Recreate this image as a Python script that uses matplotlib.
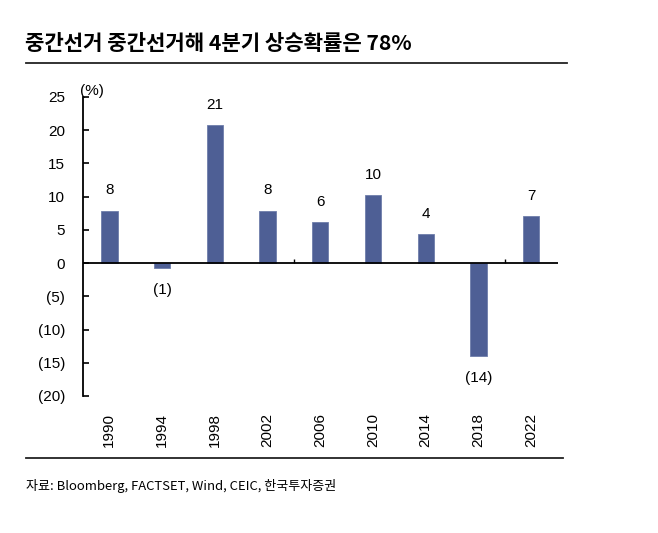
import matplotlib
matplotlib.use("Agg")
import matplotlib.pyplot as plt
from matplotlib.lines import Line2D
import numpy as np

plt.rcParams['font.family'] = ['Liberation Sans', 'Noto Sans CJK KR', 'DejaVu Sans']

title = "중간선거 중간선거해 4분기 상승확률은 78%"
source = "자료: Bloomberg, FACTSET, Wind, CEIC, 한국투자증권"
years = ["1990", "1994", "1998", "2002", "2006", "2010", "2014", "2018", "2022"]
values = [7.9, -0.8, 20.8, 7.9, 6.2, 10.2, 4.4, -14.0, 7.1]
yticks = [25, 20, 15, 10, 5, 0, -5, -10, -15, -20]
unit_label = "(%)"
bar_color = "#4E5F95"


def fmt(v):
    r = int(round(v))
    if r == 0 and v < 0:
        r = -1
    return f"({abs(r)})" if r < 0 else f"{r}"


W, H = 658, 533
fig = plt.figure(figsize=(W / 100, H / 100), dpi=100)
left, right, top, bottom = 83, 557.5, 97, 396
ax = fig.add_axes([left / W, 1 - bottom / H, (right - left) / W, (bottom - top) / H])

x = np.arange(len(years))
ax.bar(x, values, width=0.31, color=bar_color, edgecolor="#6E7DAA", linewidth=0.6, zorder=2)
ax.set_xlim(-0.5, len(years) - 0.5)
ax.set_ylim(-20, 25)

ax.axhline(0, color="black", linewidth=1.3, zorder=3)
# group boundary tick marks every 4 categories
bounds = x[::4][1:] - 0.5
ax.vlines(bounds, 0, 0.6, color="black", linewidth=1.0, zorder=3)

for s in ["top", "right", "bottom"]:
    ax.spines[s].set_visible(False)
ax.spines["left"].set_linewidth(1.3)

ax.set_yticks(yticks)
ax.set_yticklabels([fmt(v) for v in yticks], fontsize=11)
ax.tick_params(axis="y", direction="in", length=4, width=1.2, pad=13)

ax.set_xticks(x)
ax.set_xticklabels(years, rotation=90, fontsize=11)
ax.tick_params(axis="x", length=0, pad=12)

for xi, v in zip(x, values):
    off = 14.5 if v >= 0 else -15.5
    ax.annotate(fmt(v), (xi, v), xytext=(0, off), textcoords="offset points",
                ha="center", va="center", fontsize=11)

fig.text(80 / W, 1 - 91 / H, unit_label, fontsize=11, ha="left", va="center")

fig.text(25 / W, 1 - 43 / H, title, fontsize=15.2, fontweight="bold",
         ha="left", va="center", family=["Noto Sans CJK KR", "DejaVu Sans"])
fig.add_artist(Line2D([26 / W, 567 / W], [1 - 63 / H, 1 - 63 / H], color="#222222", linewidth=1.3))
fig.add_artist(Line2D([26 / W, 563 / W], [1 - 458 / H, 1 - 458 / H], color="#222222", linewidth=1.3))
fig.text(26 / W, 1 - 486 / H, source, fontsize=9.4, ha="left", va="center",
         family=["Noto Sans CJK KR", "DejaVu Sans"])

fig.savefig("out.png", dpi=100)
